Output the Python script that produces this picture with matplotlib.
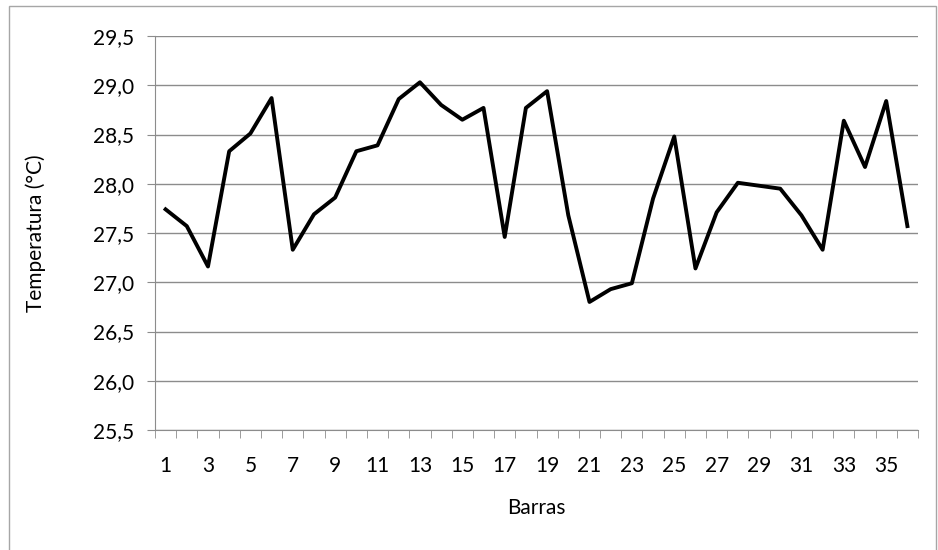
import matplotlib.pyplot as plt
from matplotlib.patches import Rectangle
from matplotlib.ticker import FuncFormatter, MultipleLocator
import numpy as np

barras = np.arange(1, 37)
temperatura = [27.74, 27.57, 27.16, 28.33, 28.51, 28.87, 27.33, 27.69, 27.86, 28.33,
               28.39, 28.86, 29.03, 28.80, 28.65, 28.77, 27.46, 28.77, 28.94, 27.68,
               26.80, 26.93, 26.99, 27.85, 28.48, 27.14, 27.71, 28.01, 27.98, 27.95,
               27.68, 27.33, 28.64, 28.17, 28.84, 27.57]
yticks = np.arange(25.5, 29.51, 0.5)
xtick_pos = barras[::2]

plt.rcParams['font.family'] = ['Lato', 'DejaVu Sans']

fig = plt.figure(figsize=(9.38, 5.5), dpi=100)
ax = fig.add_axes([155 / 938, 1 - 430 / 550, 763 / 938, 394 / 550])

# cadre extérieur du graphique
fig.patches.append(Rectangle((9 / 938, -0.05), 927 / 938, 1.05 - 6 / 550,
                             transform=fig.transFigure, fill=False,
                             edgecolor='#a6a6a6', linewidth=1))

ax.plot(barras, temperatura, color='black', linewidth=2.8)

ax.set_xlim(0.5, 36.5)
ax.set_ylim(25.5, 29.5)
ax.set_yticks(yticks)
ax.yaxis.set_major_formatter(FuncFormatter(lambda v, p: f'{v:.1f}'.replace('.', ',')))
ax.grid(axis='y', color='#8c8c8c', linewidth=1)
ax.set_axisbelow(True)

ax.set_xticks(xtick_pos)
ax.set_xticklabels([str(v) for v in xtick_pos])
ax.xaxis.set_minor_locator(MultipleLocator(1, offset=0.5))
ax.tick_params(axis='x', which='major', length=0, pad=19, labelsize=15)
ax.tick_params(axis='x', which='minor', length=6, color='#8c8c8c', direction='out')
ax.tick_params(axis='y', length=6, color='#8c8c8c', labelsize=15, pad=9)

for s in ['top', 'right']:
    ax.spines[s].set_visible(False)
for s in ['left', 'bottom']:
    ax.spines[s].set_color('#8c8c8c')

ax.set_xlabel('Barras', fontsize=15)
ax.set_ylabel('Temperatura (°C)', fontsize=15)
ax.xaxis.set_label_coords(0.5, -0.173)
ax.yaxis.set_label_coords(-0.143, 0.5)

fig.savefig('out.png', dpi=100)
